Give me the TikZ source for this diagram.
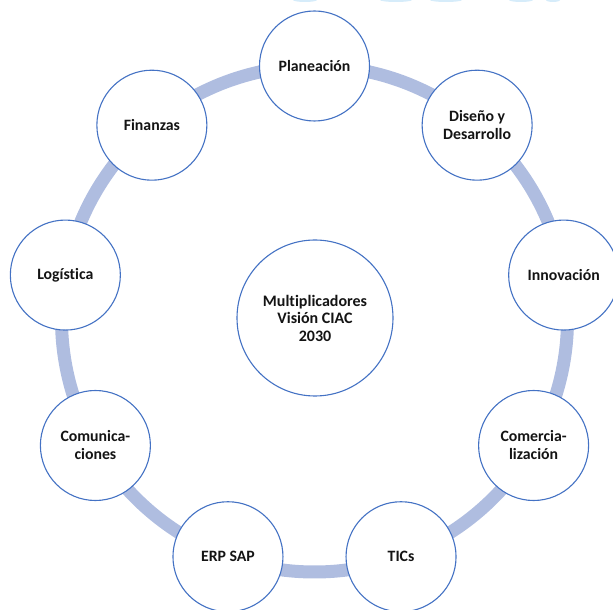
\documentclass[tikz,border=0pt]{standalone}
\usepackage{fontspec}
\usetikzlibrary{calc}
\setmainfont{Carlito}[Ligatures={NoCommon}]
\definecolor{ringc}{RGB}{175,189,224}
\definecolor{edgec}{RGB}{68,114,196}
\definecolor{txtc}{RGB}{20,20,20}
\definecolor{hazec}{RGB}{214,236,250}
\begin{document}
\begin{tikzpicture}[x=1pt,y=1pt,
  outer/.style={circle,draw=edgec,line width=1.1pt,fill=white,minimum size=110pt,inner sep=0pt,
    align=center,font=\fontsize{15.8}{18}\selectfont\bfseries,text=txtc},
  hub/.style={circle,draw=edgec,line width=1.1pt,fill=white,minimum size=156pt,inner sep=0pt,
    align=center,font=\fontsize{16}{17.5}\selectfont\bfseries,text=txtc},
  band/.style={draw=ringc,line width=13pt},
  haze/.style={fill=hazec,draw=none}]
\useasboundingbox (0,0) rectangle (613,610);
\coordinate (c) at (314.5,291);
% faint artefacts at the top edge
\fill[haze] (305,610) ellipse (12 and 2);
\fill[haze] (396,610) ellipse (16 and 2);
\fill[haze] (446,610) ellipse (16 and 2);
\fill[haze] (521,610) ellipse (12 and 2);
\fill[haze] (553,610) ellipse (7 and 2);
% ring
\draw[band] (c) circle (253);
% nodes
\node[hub] (hub) at (315,292) {Multiplicadores\\Visión CIAC\\2030};
\node[outer] (n1) at ($(c)+(90:253)$) {Planeación};
\node[outer] (n2) at ($(c)+(50:253)$) {Diseño y\\Desarrollo};
\node[outer] (n3) at ($(c)+(10:253)$) {Innovación};
\node[outer] (n4) at ($(c)+(-30:253)$) {Comercia-\\lización};
\node[outer] (n5) at ($(c)+(-70:253)$) {TICs};
\node[outer] (n6) at ($(c)+(-110:253)$) {ERP SAP};
\node[outer] (n7) at ($(c)+(-150:253)$) {Comunica-\\ciones};
\node[outer] (n8) at ($(c)+(170:253)$) {Logística};
\node[outer] (n9) at ($(c)+(130:253)$) {Finanzas};
\end{tikzpicture}
\end{document}
